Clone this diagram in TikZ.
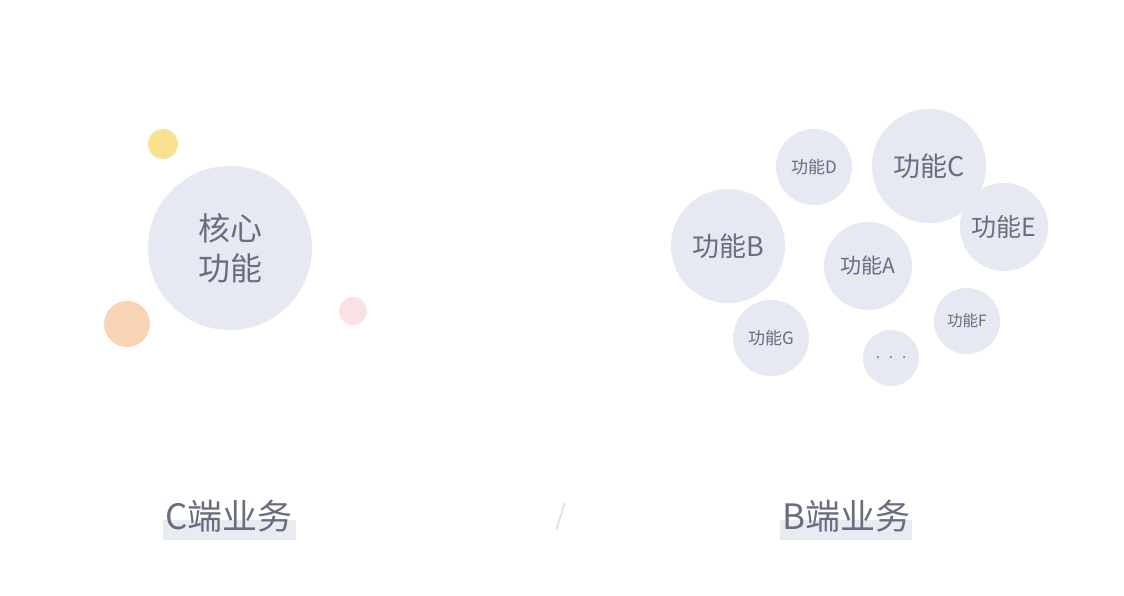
\documentclass[tikz,border=0pt]{standalone}
\usepackage{fontspec}
\setmainfont{Noto Sans CJK SC}
\newfontfamily\cjk{Noto Sans CJK SC}
\definecolor{bub}{HTML}{E6E8F2}
\definecolor{txt}{HTML}{6A6D80}
\definecolor{ylw}{HTML}{F8E292}
\definecolor{org}{HTML}{F9D4B4}
\definecolor{pnk}{HTML}{FBE2E2}
\definecolor{bar}{HTML}{E9EBF3}
\tikzset{
  bubble/.style={circle, fill=bub, inner sep=0pt, text=txt, align=center},
  dot/.style={circle, inner sep=0pt},
  label/.style={text=txt, inner sep=0pt, font=\cjk\fontsize{35}{38}\selectfont},
}
\begin{document}
\begin{tikzpicture}[x=1pt,y=-1pt]
\useasboundingbox (0,0) rectangle (1124,596);
% left
\node[dot, fill=ylw, minimum size=30pt] (y) at (163,144) {};
\node[dot, fill=org, minimum size=46pt] (o) at (127,324) {};
\node[dot, fill=pnk, minimum size=28pt] (p) at (353,311) {};
\node[bubble, minimum size=164pt, font=\cjk\fontsize{32}{40}\selectfont] (core) at (230,248) {核心\\功能};
% right
\node[bubble, minimum size=114pt, font=\cjk\fontsize{27}{30}\selectfont] (b) at (728,246) {功能B};
\node[bubble, minimum size=76pt, font=\cjk\fontsize{17}{20}\selectfont] (d) at (814,167) {功能D};
\node[bubble, minimum size=114pt, font=\cjk\fontsize{27}{30}\selectfont] (c) at (929,166) {功能C};
\node[bubble, minimum size=88pt, font=\cjk\fontsize{25}{28}\selectfont] (e) at (1004,227) {功能E};
\node[bubble, minimum size=88pt, font=\cjk\fontsize{21}{24}\selectfont] (a) at (868,266) {功能A};
\node[bubble, minimum size=76pt, font=\cjk\fontsize{17}{20}\selectfont] (g) at (771,338) {功能G};
\node[bubble, minimum size=66pt, font=\cjk\fontsize{15.5}{18}\selectfont] (f) at (967,321) {功能F};
\node[bubble, minimum size=56pt, font=\cjk\fontsize{15}{18}\selectfont\addfontfeature{LetterSpace=60}] (m) at (891,358) {...};
% labels
\fill[bar] (163,520) rectangle (296,540);
\fill[bar] (780,520) rectangle (912,540);
\node[label] (cl) at (229,516) {C端业务};
\node[label] (bl) at (846,516) {B端业务};
\node[text=black!12, inner sep=0pt, font=\cjk\fontsize{28}{30}\selectfont] (sl) at (561,517) {/};
\end{tikzpicture}
\end{document}
